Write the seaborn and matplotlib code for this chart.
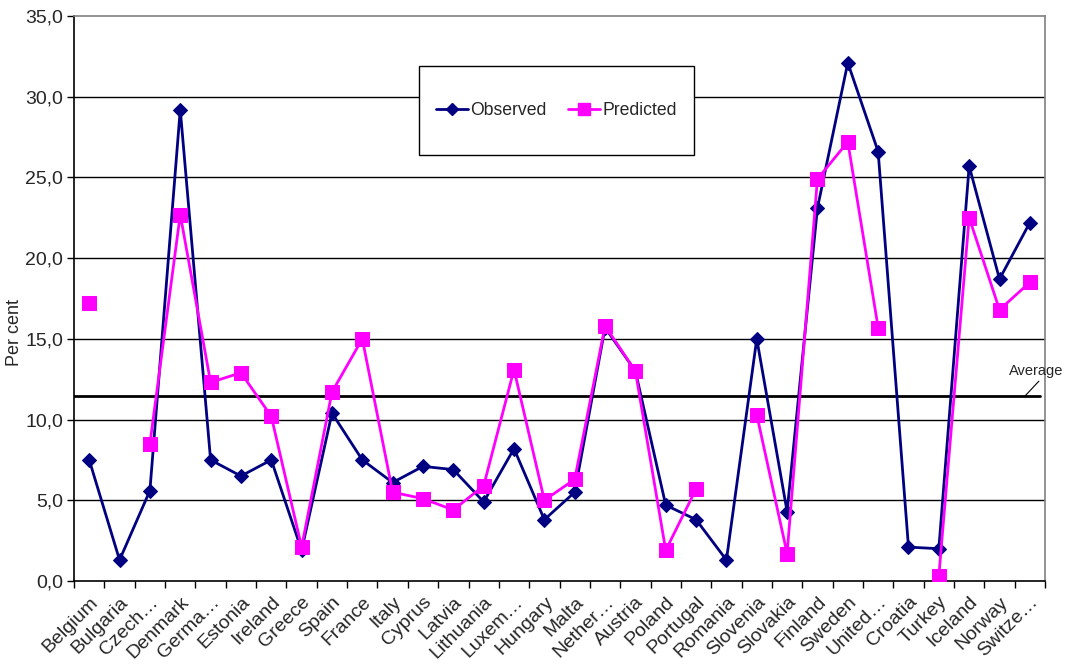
import numpy as np
import pandas as pd
import matplotlib
matplotlib.use("Agg")
import matplotlib.pyplot as plt
from matplotlib.lines import Line2D
from matplotlib.patches import Rectangle
import seaborn as sns

countries = ["Belgium", "Bulgaria", "Czech…", "Denmark", "Germa…", "Estonia", "Ireland",
             "Greece", "Spain", "France", "Italy", "Cyprus", "Latvia", "Lithuania",
             "Luxem…", "Hungary", "Malta", "Nether…", "Austria", "Poland", "Portugal",
             "Romania", "Slovenia", "Slovakia", "Finland", "Sweden", "United…", "Croatia",
             "Turkey", "Iceland", "Norway", "Switze…"]
observed = [7.5, 1.3, 5.6, 29.2, 7.5, 6.5, 7.5, 1.9, 10.4, 7.5, 6.1, 7.1, 6.9, 4.9,
            8.2, 3.8, 5.5, 15.7, 13.0, 4.7, 3.8, 1.3, 15.0, 4.3, 23.1, 32.1, 26.6, 2.1,
            2.0, 25.7, 18.7, 22.2]
predicted = [17.2, np.nan, 8.5, 22.7, 12.3, 12.9, 10.2, 2.1, 11.7, 15.0, 5.5, 5.1, 4.4, 5.9,
             13.1, 5.0, 6.3, 15.8, 13.0, 1.9, 5.7, np.nan, 10.3, 1.7, 24.9, 27.2, 15.7, np.nan,
             0.3, 22.5, 16.8, 18.5]
average = 11.46
y_ticks = [0, 5, 10, 15, 20, 25, 30, 35]

navy = "#000080"
magenta = "#FF00FF"

sns.set_style("ticks")
plt.rcParams["font.family"] = ["Liberation Sans", "DejaVu Sans"]


def segmented(values, name):
    """Frame with a run id so missing values break the line."""
    vals = np.asarray(values, dtype=float)
    run = np.cumsum(np.isnan(vals))
    df = pd.DataFrame({"x": np.arange(len(vals)), "y": vals, "run": run, "series": name})
    return df.dropna()


obs_df = segmented(observed, "Observed")
pred_df = segmented(predicted, "Predicted")

fig = plt.figure(figsize=(10.67, 6.64), dpi=100)
ax = fig.add_axes([0.0694, 0.125, 0.9100, 0.851])

for yv in y_ticks[1:-1]:
    ax.axhline(yv, color="black", lw=1.0, zorder=1)

sns.lineplot(data=obs_df, x="x", y="y", units="run", estimator=None, ax=ax,
             color=navy, lw=2.0, marker="D", markersize=7, markeredgecolor=navy,
             markerfacecolor=navy, zorder=3, legend=False)
sns.lineplot(data=pred_df, x="x", y="y", units="run", estimator=None, ax=ax,
             color=magenta, lw=2.0, marker="s", markersize=9.5, markeredgecolor=magenta,
             markerfacecolor=magenta, zorder=4, legend=False)

n = len(countries)
ax.axhline(average, xmin=0, xmax=0.995, color="black", lw=2.0, zorder=2)
ax.annotate("Average", xy=(30.84, average), xytext=(31.22, 12.58),
            ha="center", va="bottom", fontsize=10.5, annotation_clip=False,
            arrowprops=dict(arrowstyle="-", color="black", lw=0.8, shrinkA=0, shrinkB=0,
                            relpos=(0.6, 0.0)))

ax.set_xlim(-0.5, n - 0.5)
ax.set_ylim(0, 35)
ax.set_yticks(y_ticks)
ax.set_yticklabels([f"{v:.1f}".replace(".", ",") for v in y_ticks], fontsize=14)
ax.set_xticks(np.arange(n))
ax.set_xticklabels(countries, rotation=45, ha="right", rotation_mode="anchor", fontsize=14)
ax.set_xticks(np.arange(n + 1) - 0.5, minor=True)
ax.tick_params(axis="x", which="major", length=0, pad=9)
ax.tick_params(axis="x", which="minor", length=5, width=1, color="black", direction="out")
ax.tick_params(axis="y", length=5, width=1, color="black", direction="out", pad=3)
ax.set_xlabel("")
ax.set_ylabel("Per cent", fontsize=13)
ax.yaxis.set_label_coords(-0.0525, 0.44)

for side in ["left", "bottom"]:
    ax.spines[side].set_color("black")
    ax.spines[side].set_linewidth(1.2)
for side in ["top", "right"]:
    ax.spines[side].set_visible(True)
    ax.spines[side].set_color("#808080")
    ax.spines[side].set_linewidth(1.2)

# Legend box drawn as a fixed rectangle, entries centred inside it
box = (0.355, 0.754, 0.2835, 0.1575)
ax.add_patch(Rectangle(box[:2], box[2], box[3], transform=ax.transAxes,
                       facecolor="white", edgecolor="black", lw=1.0, zorder=10))
handles = [
    Line2D([], [], color=navy, lw=2, marker="D", markersize=6, markerfacecolor=navy),
    Line2D([], [], color=magenta, lw=2, marker="s", markersize=8, markerfacecolor=magenta),
]
leg = ax.legend(handles, ["Observed", "Predicted"], loc="center",
                bbox_to_anchor=box, ncol=2, fontsize=12.7, frameon=False,
                handlelength=1.8, handletextpad=0.15, columnspacing=1.2)
leg.set_zorder(11)

fig.savefig("out.png", dpi=100, facecolor="white")
